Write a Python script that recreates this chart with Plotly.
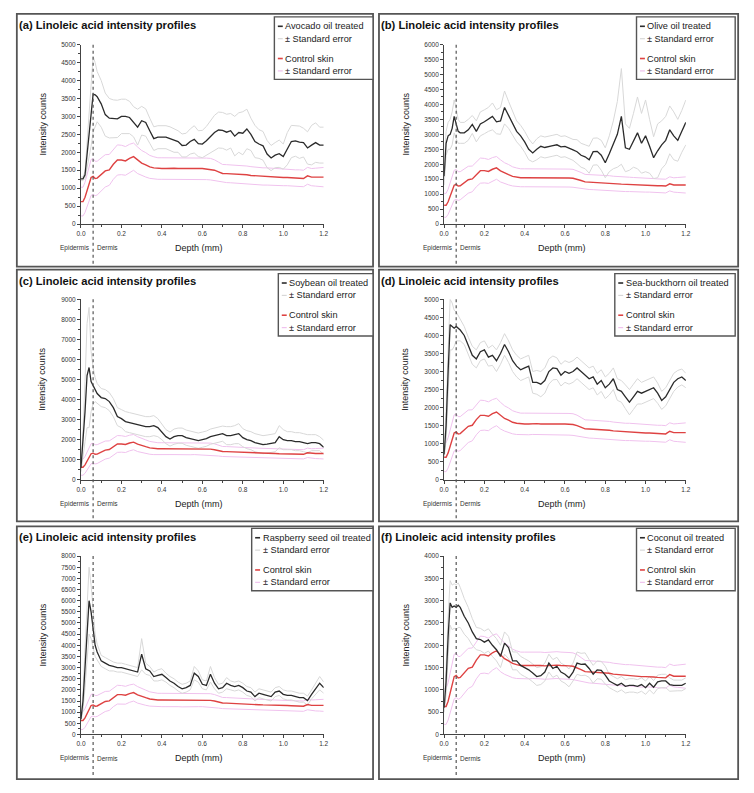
import plotly.graph_objects as go

# ---------------- data ----------------
depth_mm = [0.00, 0.01, 0.02, 0.03, 0.04, 0.05, 0.06, 0.07, 0.08,
            0.10, 0.12, 0.14, 0.16, 0.18, 0.20, 0.22, 0.24, 0.26, 0.28, 0.30,
            0.32, 0.34, 0.36, 0.38, 0.40, 0.42, 0.44, 0.46, 0.48, 0.50,
            0.52, 0.54, 0.56, 0.58, 0.60, 0.62, 0.64, 0.66, 0.68, 0.70,
            0.72, 0.74, 0.76, 0.78, 0.80, 0.82, 0.84, 0.86, 0.88, 0.90,
            0.92, 0.94, 0.96, 0.98, 1.00, 1.02, 1.04, 1.06, 1.08, 1.10,
            1.12, 1.14, 1.16, 1.18, 1.20]

control_mean = [626, 626, 745, 930, 1114, 1298, 1326, 1270, 1280, 1390,
                1482, 1510, 1667, 1786, 1786, 1760, 1832, 1878, 1777, 1700,
                1650, 1593, 1565, 1547, 1547, 1547, 1556, 1556, 1547, 1538,
                1547, 1547, 1556, 1547, 1547, 1538, 1530, 1500, 1455, 1410,
                1405, 1400, 1390, 1390, 1380, 1372, 1354, 1345, 1335, 1326,
                1326, 1317, 1310, 1298, 1298, 1298, 1290, 1280, 1280, 1270,
                1344, 1307, 1307, 1310, 1307]
control_se = [400, 400, 420, 450, 480, 500, 500, 480, 470, 460,
              450, 430, 420, 420, 410, 400, 390, 380, 370, 350,
              340, 320, 310, 300, 300, 300, 300, 300, 300, 300,
              300, 300, 300, 300, 300, 300, 300, 290, 270, 250,
              250, 250, 250, 250, 250, 245, 245, 240, 240, 240,
              240, 240, 235, 235, 230, 230, 230, 230, 230, 230,
              235, 240, 250, 260, 270]

avocado_mean = [1260, 1260, 1370, 1940, 2510, 3070, 3620, 3600, 3550, 3350,
                3050, 2950, 2930, 2930, 3000, 3000, 2970, 2850, 2700, 2880,
                2830, 2600, 2380, 2420, 2430, 2420, 2380, 2330, 2300, 2190,
                2200, 2300, 2360, 2240, 2230, 2320, 2430, 2550, 2620, 2610,
                2560, 2600, 2450, 2550, 2530, 2650, 2500, 2300, 2230, 2180,
                1950, 1840, 1920, 1960, 1880, 2100, 2300, 2320, 2280, 2270,
                2120, 2200, 2270, 2200, 2200]
avocado_se = [50, 50, 100, 400, 700, 900, 1050, 900, 700, 650,
              600, 550, 530, 520, 480, 480, 450, 420, 500, 400,
              380, 350, 330, 320, 320, 320, 330, 330, 300, 320,
              330, 350, 380, 360, 380, 400, 450, 480, 500, 500,
              500, 480, 550, 550, 600, 550, 450, 450, 400, 400,
              380, 350, 350, 380, 350, 450, 450, 430, 450, 400,
              450, 550, 550, 500, 500]

olive_mean = [1600, 2700, 2950, 3000, 3200, 3600, 3350, 3100, 3050, 3050,
              3150, 3330, 3100, 3350, 3420, 3500, 3600, 3420, 3450, 3900,
              3650, 3350, 3100, 2950, 2750, 2500, 2380, 2500, 2600, 2560,
              2580, 2620, 2650, 2580, 2600, 2550, 2480, 2420, 2300, 2250,
              2150, 2420, 2430, 2300, 2050, 2350, 2650, 3000, 3600, 2550,
              2500, 2800, 3050, 2700, 2950, 2600, 2220, 2450, 2650, 2800,
              3150, 2950, 2800, 3100, 3400]
olive_se = [300, 400, 450, 500, 550, 550, 500, 400, 350, 350,
            350, 300, 350, 400, 400, 400, 450, 400, 450, 550,
            450, 400, 350, 350, 350, 350, 300, 350, 350, 350,
            350, 350, 350, 350, 350, 350, 350, 400, 400, 400,
            450, 450, 450, 500, 500, 600, 800, 1100, 1600, 800,
            700, 900, 1200, 1000, 1200, 900, 700, 900, 800, 800,
            800, 800, 700, 700, 750]

soybean_mean = [600, 1900, 3400, 5200, 5600, 4900, 4700, 4500, 4300, 4100,
                4050, 3900, 3600, 3150, 3050, 2900, 2850, 2800, 2750, 2700,
                2650, 2650, 2700, 2600, 2400, 2150, 2030, 2150, 2200, 2200,
                2100, 2050, 2000, 1950, 2000, 2050, 2150, 2200, 2250, 2300,
                2200, 2200, 2250, 2300, 2100, 2000, 1950, 1850, 1800, 1750,
                1780, 1800, 1850, 2150, 2000, 1950, 1950, 1900, 1900, 1850,
                1800, 1850, 1850, 1800, 1620]
soybean_se = [200, 600, 1500, 2600, 3000, 1500, 900, 600, 500, 450,
              450, 450, 450, 450, 450, 500, 500, 500, 500, 500,
              500, 500, 500, 450, 400, 350, 350, 380, 380, 380,
              380, 380, 380, 380, 380, 380, 380, 380, 380, 380,
              450, 450, 450, 500, 450, 450, 450, 450, 450, 450,
              450, 450, 450, 550, 500, 450, 450, 450, 450, 450,
              450, 400, 400, 350, 350]

seabuckthorn_mean = [700, 1500, 3000, 4300, 4250, 4200, 4250, 4200, 4150, 4000,
                     3700, 3450, 3350, 3550, 3600, 3400, 3450, 3300, 3500, 3750,
                     3550, 3300, 3150, 3050, 3100, 3150, 2700, 2700, 2650, 2750,
                     3000, 3100, 3080, 2900, 3000, 2950, 3000, 3100, 3000, 2900,
                     2800, 2850, 2650, 2750, 2550, 2650, 2800, 2500, 2450, 2300,
                     2150, 2300, 2450, 2400, 2450, 2500, 2550, 2400, 2200, 2300,
                     2500, 2700, 2800, 2850, 2750]
seabuckthorn_se = [100, 400, 600, 700, 650, 500, 400, 350, 300, 250,
                   250, 250, 250, 250, 250, 250, 280, 300, 300, 300,
                   300, 300, 300, 300, 300, 300, 300, 330, 350, 350,
                   350, 330, 300, 300, 300, 300, 300, 300, 300, 300,
                   300, 300, 300, 300, 300, 300, 300, 300, 300, 330,
                   350, 350, 350, 300, 300, 300, 300, 280, 250, 250,
                   250, 250, 230, 220, 200]

raspberry_mean = [700, 1500, 3000, 4800, 6000, 5500, 4800, 4000, 3700, 3300,
                  3200, 3100, 3050, 3000, 3000, 2950, 2900, 2850, 2800, 3600,
                  2950, 2850, 2600, 2650, 2700, 2550, 2400, 2300, 2150, 2050,
                  2100, 2200, 2750, 2600, 2250, 2200, 2700, 2300, 2050, 2100,
                  2300, 2200, 2150, 2200, 2100, 1950, 1900, 1700, 1850, 1800,
                  1750, 1700, 1900, 1950, 1800, 1750, 1750, 1700, 1650, 1650,
                  1520, 1800, 2050, 2300, 2100]
raspberry_se = [100, 400, 900, 1300, 1500, 1200, 900, 500, 350, 250,
                250, 250, 200, 200, 200, 200, 200, 200, 200, 700,
                250, 200, 200, 250, 250, 200, 200, 200, 200, 200,
                200, 200, 300, 250, 200, 200, 350, 250, 200, 200,
                250, 200, 200, 200, 200, 200, 200, 200, 200, 200,
                200, 200, 200, 200, 200, 200, 200, 200, 200, 200,
                200, 200, 250, 300, 250]

coconut_mean = [600, 1200, 2200, 2950, 2850, 2880, 2850, 2900, 2850, 2650,
                2500, 2300, 2150, 2130, 2070, 2120, 2000, 1900, 1750, 2050,
                1950, 1650, 1650, 1550, 1500, 1450, 1380, 1300, 1320, 1400,
                1600, 1480, 1530, 1400, 1350, 1270, 1400, 1600, 1570, 1580,
                1480, 1350, 1450, 1440, 1330, 1200, 1150, 1100, 1150, 1080,
                1100, 1100, 1080, 1120, 1050, 1150, 1060, 1180, 1200, 1200,
                1120, 1100, 1100, 1100, 1150]
coconut_se = [100, 300, 450, 500, 500, 500, 500, 500, 450, 400,
              350, 300, 250, 250, 250, 250, 250, 250, 250, 250,
              250, 200, 200, 200, 200, 200, 200, 200, 200, 200,
              200, 200, 200, 200, 200, 200, 200, 250, 250, 250,
              200, 200, 200, 200, 200, 150, 150, 150, 150, 150,
              150, 150, 150, 150, 150, 150, 150, 150, 150, 150,
              150, 120, 120, 120, 120]

panel_letters = ["(a)", "(b)", "(c)", "(d)", "(e)", "(f)"]
treatment_names = ["Avocado oil treated", "Olive oil treated", "Soybean oil treated",
                   "Sea-buckthorn oil treated", "Raspberry seed oil treated",
                   "Coconut oil treated"]
treated_means = [avocado_mean, olive_mean, soybean_mean,
                 seabuckthorn_mean, raspberry_mean, coconut_mean]
treated_ses = [avocado_se, olive_se, soybean_se,
               seabuckthorn_se, raspberry_se, coconut_se]
y_max = [5000, 6000, 9000, 5000, 8000, 4000]
y_step = [500, 500, 1000, 500, 500, 500]
boundary_depth_mm = 0.06
title_text = "Linoleic acid intensity profiles"
control_name = "Control skin"
se_name = "± Standard error"

for arr in treated_means + treated_ses + [control_mean, control_se]:
    assert len(arr) == len(depth_mm), len(arr)

# ---------------- styling / layout ----------------
W, H = 754, 793
C_TREAT = "#2b2b2b"
C_TREAT_SE = "#d8d8d8"
C_CTRL = "#de4242"
C_CTRL_SE = "#f0c2ee"
C_AXIS = "#444444"
C_BOX = "#555555"
FONT = "Liberation Sans"
LEG_FONT = "Liberation Sans"

col_plot_x = [(77, 323), (445, 690)]
row_plot_y = [(41, 222), (298, 480), (557, 737)]
col_box_x = [(12, 373), (379, 743)]
row_box_y = [(10, 265), (268, 522), (527, 782)]
legend_boxes = [(273, 373, 13), (640, 740, 13), (277, 373, 272),
                (618, 740, 272), (250, 373, 529), (640, 740, 529)]


def fx(p):
    return p / W


def fy(p):
    return 1 - p / H


fig = go.Figure()
shapes = []
annotations = []
layout_axes = {}

for i in range(6):
    r, c = i // 2, i % 2
    n = i + 1
    xa = "x" if n == 1 else f"x{n}"
    ya = "y" if n == 1 else f"y{n}"
    px0, px1 = col_plot_x[c]
    py0, py1 = row_plot_y[r]
    bx0, bx1 = col_box_x[c]
    by0, by1 = row_box_y[r]

    mean = treated_means[i]
    se = treated_ses[i]
    t_up = [m + s for m, s in zip(mean, se)]
    t_lo = [m - s for m, s in zip(mean, se)]
    c_up = [m + s for m, s in zip(control_mean, control_se)]
    c_lo = [m - s for m, s in zip(control_mean, control_se)]

    common = dict(mode="lines", xaxis=xa, yaxis=ya, showlegend=False, hoverinfo="skip")
    for yy in (c_up, c_lo):
        fig.add_trace(go.Scatter(x=depth_mm, y=yy, line=dict(color=C_CTRL_SE, width=1), **common))
    for yy in (t_up, t_lo):
        fig.add_trace(go.Scatter(x=depth_mm, y=yy, line=dict(color=C_TREAT_SE, width=1), **common))
    fig.add_trace(go.Scatter(x=depth_mm, y=control_mean, line=dict(color=C_CTRL, width=1.4), **common))
    fig.add_trace(go.Scatter(x=depth_mm, y=mean, line=dict(color=C_TREAT, width=1.3), **common))

    axis_common = dict(showline=True, linecolor=C_AXIS, linewidth=1, ticks="outside",
                       ticklen=3, tickwidth=1, tickcolor=C_AXIS, showgrid=False,
                       zeroline=False, tickfont=dict(family=FONT, size=6.5, color="#333"))
    layout_axes["xaxis" if n == 1 else f"xaxis{n}"] = dict(
        domain=[fx(px0), fx(px1)], anchor=ya, range=[0, 1.2], tick0=0, dtick=0.2,
        tickformat=".1f", minor=dict(ticks="outside", ticklen=2, dtick=0.1, tickcolor=C_AXIS),
        **axis_common)
    layout_axes["yaxis" if n == 1 else f"yaxis{n}"] = dict(
        domain=[fy(py1), fy(py0)], anchor=xa, range=[0, y_max[i]], tick0=0, dtick=y_step[i],
        minor=dict(ticks="outside", ticklen=2, dtick=y_step[i] / 2, tickcolor=C_AXIS),
        **axis_common)

    # panel frame
    shapes.append(dict(type="rect", xref="paper", yref="paper", x0=fx(bx0), x1=fx(bx1),
                       y0=fy(by1), y1=fy(by0), line=dict(color=C_BOX, width=1.8), layer="above"))
    # epidermis/dermis boundary
    ph = py1 - py0
    shapes.append(dict(type="line", xref=xa, yref=f"{ya} domain", x0=boundary_depth_mm,
                       x1=boundary_depth_mm, y0=1.0, y1=-(by1 - 1 - py1) / ph,
                       line=dict(color="#555", width=1.2, dash="dot"), layer="above"))
    yl = -(24) / ph
    annotations.append(dict(xref=xa, yref=f"{ya} domain", x=boundary_depth_mm, y=yl,
                            text="Epidermis", showarrow=False, xanchor="right", yanchor="middle",
                            xshift=-1.5, font=dict(family=FONT, size=6.5, color="#333")))
    annotations.append(dict(xref=xa, yref=f"{ya} domain", x=boundary_depth_mm, y=yl,
                            text="Dermis", showarrow=False, xanchor="left", yanchor="middle",
                            xshift=1.5, font=dict(family=FONT, size=6.5, color="#333")))
    # axis titles
    annotations.append(dict(xref="paper", yref="paper", x=fx((px0 + px1) / 2 - 3), y=fy(py1 + 24),
                            text="Depth (mm)", showarrow=False, xanchor="center", yanchor="middle",
                            font=dict(family=FONT, size=9, color="#222")))
    annotations.append(dict(xref="paper", yref="paper", x=fx(px0 - 39), y=fy((py0 + py1) / 2 - 10.5),
                            text="Intensity counts", showarrow=False, textangle=-90,
                            xanchor="center", yanchor="middle",
                            font=dict(family=FONT, size=9, color="#222")))
    # panel title
    annotations.append(dict(xref="paper", yref="paper", x=fx(bx0 + 0.5), y=fy(by0 + 11),
                            text=f"<b>{panel_letters[i]} {title_text}</b>", showarrow=False,
                            xanchor="left", yanchor="middle",
                            font=dict(family=FONT, size=11.2, color="#111")))
    # legend box
    lx0, lx1, ly0 = legend_boxes[i]
    ly1 = ly0 + 63
    shapes.append(dict(type="rect", xref="paper", yref="paper", x0=fx(lx0), x1=fx(lx1),
                       y0=fy(ly1), y1=fy(ly0), fillcolor="white",
                       line=dict(color=C_BOX, width=1.4), layer="above"))
    entries = [(treatment_names[i], C_TREAT, 1.6, 9.5), (se_name, C_TREAT_SE, 1.2, 22),
               (control_name, C_CTRL, 1.6, 42), (se_name, C_CTRL_SE, 1.2, 54.5)]
    for label, col, lw, dy in entries:
        shapes.append(dict(type="line", xref="paper", yref="paper", x0=fx(lx0 + 3.5),
                           x1=fx(lx0 + 8.5), y0=fy(ly0 + dy), y1=fy(ly0 + dy),
                           line=dict(color=col, width=lw), layer="above"))
        annotations.append(dict(xref="paper", yref="paper", x=fx(lx0 + 9), y=fy(ly0 + dy),
                                text=label, showarrow=False, xanchor="left", yanchor="middle",
                                font=dict(family=LEG_FONT, size=9.2, color="#222")))

fig.update_layout(width=W, height=H, autosize=False, margin=dict(l=0, r=0, t=0, b=0),
                  paper_bgcolor="white", plot_bgcolor="white", shapes=shapes,
                  annotations=annotations, showlegend=False, **layout_axes)

fig.write_html("out.html", config={"displayModeBar": False},
               post_script="document.body.style.margin='0';")
